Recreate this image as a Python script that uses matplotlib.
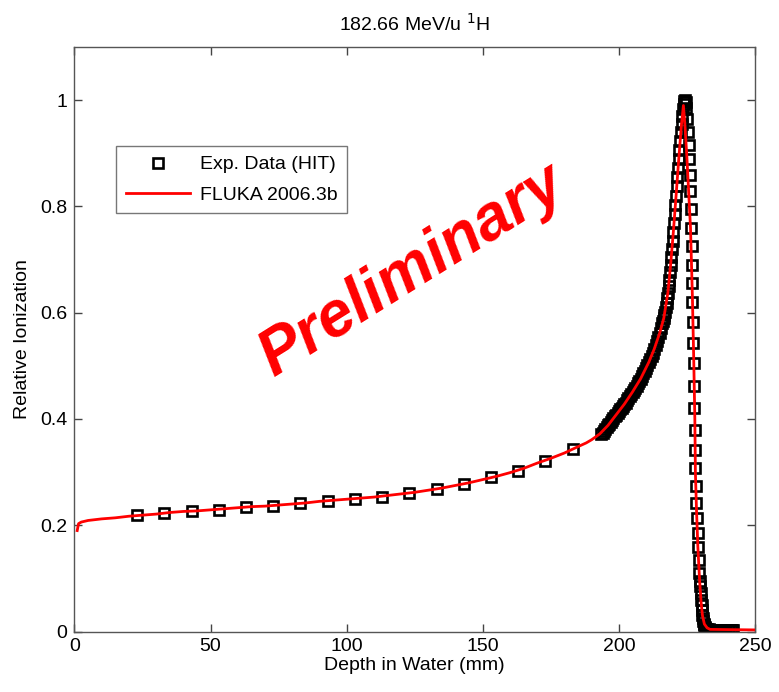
import matplotlib
matplotlib.use("Agg")
import matplotlib.pyplot as plt

plt.rcParams['font.family'] = ['Liberation Sans', 'DejaVu Sans']

title = "182.66 MeV/u $^{1}$H"
xlabel = "Depth in Water (mm)"
ylabel = "Relative Ionization"
legend_labels = ["Exp. Data (HIT)", "FLUKA 2006.3b"]
xticks = [0, 50, 100, 150, 200, 250]
yticks = [0, 0.2, 0.4, 0.6, 0.8, 1.0]
ytick_labels = ["0", "0.2", "0.4", "0.6", "0.8", "1"]

# Experimental data (HIT)
exp_x = [23, 33, 43, 53, 63, 73, 83, 93, 103, 113, 123, 133, 143, 153, 163, 173, 183,
         193.5, 194.0, 194.5, 195.0, 195.5, 196.0, 196.5, 197.0, 197.5, 198.0, 198.5,
         199.0, 199.5, 200.0, 200.5, 201.0, 201.5, 202.0, 202.5, 203.0, 203.5, 204.0,
         204.5, 205.0, 205.5, 206.0, 206.5, 207.0, 207.5, 208.0, 208.5, 209.0, 209.5,
         210.0, 210.5, 211.0, 211.5, 212.0, 212.5, 213.0, 213.5, 214.0, 214.5, 215.0,
         215.5, 216.0, 216.25, 216.5, 216.75, 217.0, 217.25, 217.5, 217.75, 218.0,
         218.25, 218.5, 218.75, 219.0, 219.25, 219.5, 219.75, 220.0, 220.25, 220.5,
         220.75, 221.0, 221.25, 221.5, 221.75, 222.0, 222.25, 222.5, 222.75, 223.0,
         223.25, 223.5, 223.75, 224.0, 224.25, 224.5,
         224.8, 225.0, 225.3, 225.6, 225.9, 226.1, 226.3, 226.5, 226.6, 226.7, 226.8,
         226.9, 227.0, 227.2, 227.3, 227.5, 227.6, 227.7, 227.9, 228.0, 228.1, 228.3,
         228.5, 228.7, 228.9, 229.1, 229.4, 229.6, 229.8, 229.9, 230.0, 230.2, 230.35,
         230.5, 230.65, 230.8, 230.95, 231.1, 231.3, 231.5, 231.8, 232.0, 232.5, 233.0,
         233.5, 234.0, 234.5, 235.0, 235.5, 236.0, 236.5, 237.0, 237.5, 238.0, 238.5,
         239.0, 239.5, 240.0, 240.5, 241.0, 241.5, 242.0]
exp_y = [0.219, 0.223, 0.227, 0.229, 0.234, 0.237, 0.241, 0.246, 0.250, 0.254, 0.261,
         0.269, 0.278, 0.290, 0.303, 0.320, 0.344,
         0.371, 0.374, 0.377, 0.381, 0.384, 0.388, 0.391, 0.395, 0.398, 0.402, 0.405,
         0.408, 0.411, 0.415, 0.418, 0.421, 0.424, 0.428, 0.431, 0.435, 0.439, 0.443,
         0.447, 0.451, 0.455, 0.459, 0.463, 0.467, 0.471, 0.476, 0.481, 0.486, 0.491,
         0.496, 0.501, 0.507, 0.513, 0.519, 0.525, 0.532, 0.539, 0.546, 0.554, 0.562,
         0.571, 0.580, 0.585, 0.590, 0.596, 0.602, 0.610, 0.618, 0.628, 0.638,
         0.650, 0.662, 0.676, 0.690, 0.705, 0.720, 0.735, 0.752, 0.768, 0.785,
         0.802, 0.820, 0.838, 0.856, 0.873, 0.890, 0.907, 0.923, 0.940, 0.955,
         0.970, 0.983, 0.993, 0.999, 1.000, 0.996,
         0.985, 0.965, 0.940, 0.915, 0.890, 0.860, 0.830, 0.795, 0.760, 0.725, 0.690,
         0.655, 0.620, 0.582, 0.543, 0.505, 0.463, 0.421, 0.380, 0.342, 0.307, 0.273,
         0.242, 0.213, 0.186, 0.160, 0.135, 0.110, 0.095, 0.085, 0.072, 0.060, 0.050,
         0.040, 0.032, 0.025, 0.020, 0.015, 0.012, 0.008, 0.006, 0.005, 0.004, 0.004,
         0.003, 0.003, 0.003, 0.003, 0.003, 0.003, 0.003, 0.003, 0.003, 0.003, 0.003,
         0.003, 0.003, 0.003, 0.003, 0.003, 0.003, 0.003]

# FLUKA simulation
fluka_x = [1.0, 1.5, 2.5, 5, 10, 15, 20, 25, 30, 35, 40, 45, 50, 55, 60, 65, 70, 75, 80,
           85, 90, 95, 100, 105, 110, 115, 120, 125, 130, 135, 140, 145, 150, 155, 160,
           165, 170, 175, 180, 185, 188, 190, 193, 196, 199, 202, 205, 208, 211, 213,
           215, 216.5, 218, 219, 220, 221, 222, 223, 223.7,
           224.3, 225.0, 225.7, 226.3, 227.0, 227.5, 227.9, 228.1, 228.5, 229.0, 229.6,
           230.2, 230.7, 231.4, 232.4, 233.5, 250.0]
fluka_y = [0.190, 0.203, 0.206, 0.209, 0.212, 0.214, 0.217, 0.219, 0.221, 0.224, 0.226,
           0.227, 0.229, 0.231, 0.233, 0.235, 0.236, 0.238, 0.240, 0.242, 0.245, 0.247,
           0.249, 0.251, 0.253, 0.256, 0.259, 0.262, 0.266, 0.270, 0.275, 0.280, 0.286,
           0.292, 0.299, 0.307, 0.317, 0.326, 0.336, 0.348, 0.355, 0.361, 0.372, 0.388,
           0.408, 0.428, 0.451, 0.476, 0.507, 0.532, 0.562, 0.590, 0.638, 0.690, 0.752,
           0.820, 0.890, 0.955, 0.990,
           0.950, 0.890, 0.820, 0.760, 0.630, 0.510, 0.400, 0.300, 0.230, 0.160, 0.100,
           0.055, 0.030, 0.014, 0.007, 0.004, 0.003]

fig = plt.figure(figsize=(7.79, 6.92), dpi=100)
ax = fig.add_axes([0.0956, 0.0874, 0.8736, 0.8446])

ax.plot(exp_x, exp_y, linestyle='none', marker='s', markersize=7.5,
        markerfacecolor='none', markeredgecolor='black', markeredgewidth=1.9,
        label=legend_labels[0], zorder=2)
ax.plot(fluka_x, fluka_y, color='#ff0000', linewidth=2.0, label=legend_labels[1], zorder=3)

ax.set_xlim(0, 250)
ax.set_ylim(0, 1.1)
ax.set_xticks(xticks)
ax.set_yticks(yticks)
ax.set_yticklabels(ytick_labels)
ax.tick_params(direction='in', length=6, width=1, top=True, right=True,
               labelsize=14, colors='#444444', labelcolor='black', pad=5)
for s in ax.spines.values():
    s.set_color('#555555')
    s.set_linewidth(1.0)

ax.set_xlabel(xlabel, fontsize=14, labelpad=1)
ax.set_ylabel(ylabel, fontsize=14, labelpad=7)
ax.set_title(title, fontsize=14, pad=12)

leg = ax.legend(loc='upper left', bbox_to_anchor=(0.061, 0.8306), borderaxespad=0,
                fontsize=14, frameon=True, fancybox=False, edgecolor='#555555',
                handlelength=3.3, handletextpad=0.5, borderpad=0.5, labelspacing=0.65)
leg.get_frame().set_linewidth(1.0)

ax.text(0.497, 0.618, "Preliminary", transform=ax.transAxes, rotation=32,
        ha='center', va='center', rotation_mode='anchor', color='#ff0000',
        fontsize=46, fontweight='bold', fontstyle='italic', zorder=5)

fig.savefig("out.png", dpi=100)
